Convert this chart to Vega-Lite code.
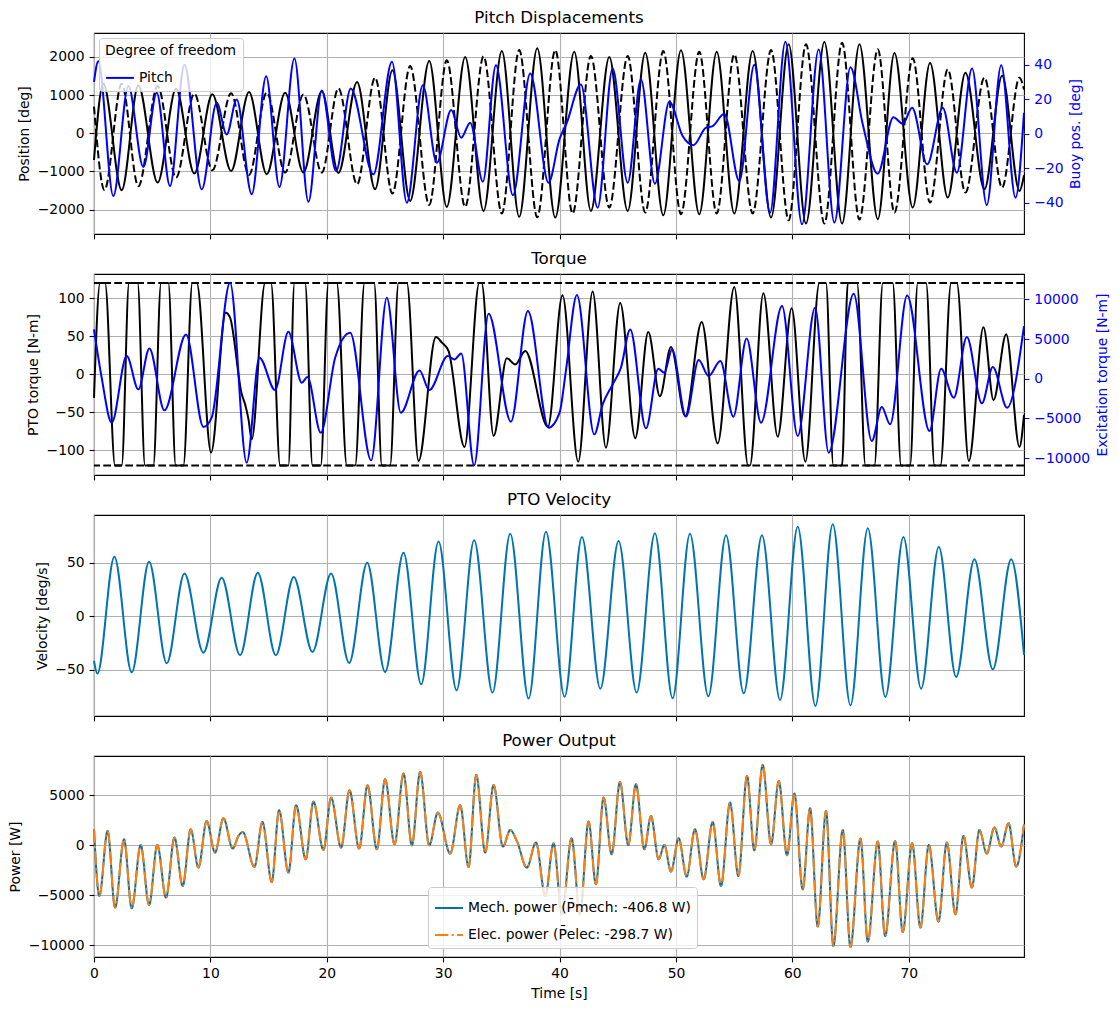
{
"$schema":"https://vega.github.io/schema/vega-lite/v6.json",
"background":"white",
"padding":{"left":8,"top":9,"right":5,"bottom":5},
"config":{
 "font":"DejaVu Sans",
 "view":{"stroke":"black","strokeWidth":1.1},
 "axis":{"labelFontSize":13.9,"titleFontSize":13.9,"titleFontWeight":"normal","labelColor":"black","titleColor":"black","tickColor":"black","tickSize":4.9,"tickWidth":1.1,"labelPadding":4.9,"titlePadding":5.6,"domain":false,"gridColor":"#b0b0b0","gridWidth":1.1,"gridOpacity":1,"labelFlush":false,"labelOverlap":false},
 "title":{"fontSize":16.7,"fontWeight":"normal","color":"black","frame":"group","offset":6},
 "legend":{"titleFontWeight":"normal","titleFontSize":13.9,"labelFontSize":13.9,"titleColor":"black","labelColor":"black","symbolType":"stroke","symbolSize":780,"symbolStrokeWidth":2,"fillColor":"rgba(255,255,255,0.8)","strokeColor":"#cccccc","cornerRadius":3,"padding":6,"labelLimit":0}
},
"datasets":{
 "p1s":[{"t":0,"v":-700},{"t":0.8,"v":1300},{"t":2.38,"v":-1490},{"t":3.81,"v":1250},{"t":5.47,"v":-1290},{"t":7.05,"v":1170},{"t":8.62,"v":-1056},{"t":10.17,"v":1021},{"t":11.78,"v":-990},{"t":13.32,"v":1083},{"t":14.84,"v":-1074},{"t":16.42,"v":1065},{"t":17.99,"v":-1030},{"t":19.57,"v":1100},{"t":21.0,"v":-1040},{"t":22.6,"v":1344},{"t":24.15,"v":-1467},{"t":25.64,"v":1650},{"t":27.16,"v":-1772},{"t":28.8,"v":1894},{"t":30.31,"v":-1929},{"t":31.89,"v":1999},{"t":33.47,"v":-2034},{"t":35.04,"v":2156},{"t":36.53,"v":-2191},{"t":38.08,"v":2226},{"t":39.63,"v":-2209},{"t":41.26,"v":2139},{"t":42.69,"v":-2034},{"t":44.27,"v":1999},{"t":45.85,"v":-2034},{"t":47.36,"v":2113},{"t":48.91,"v":-2148},{"t":50.43,"v":2174},{"t":52.0,"v":-2121},{"t":53.5,"v":2139},{"t":55.01,"v":-2104},{"t":56.59,"v":2156},{"t":58.17,"v":-2209},{"t":59.68,"v":2331},{"t":61.17,"v":-2366},{"t":62.75,"v":2392},{"t":64.27,"v":-2366},{"t":65.76,"v":2331},{"t":67.34,"v":-2252},{"t":68.77,"v":2104},{"t":70.34,"v":-1947},{"t":71.83,"v":1842},{"t":73.35,"v":-1685},{"t":74.87,"v":1589},{"t":76.5,"v":-1467},{"t":78.02,"v":1510},{"t":79.51,"v":-1510},{"t":79.9,"v":-1100}],
 "p1d":[{"t":0,"v":700},{"t":0.9,"v":-1490},{"t":2.38,"v":1300},{"t":3.81,"v":-1388},{"t":5.47,"v":1240},{"t":7.05,"v":-1161},{"t":8.62,"v":1039},{"t":10.17,"v":-969},{"t":11.78,"v":1048},{"t":13.32,"v":-1091},{"t":14.84,"v":1065},{"t":16.42,"v":-1030},{"t":17.99,"v":1020},{"t":19.57,"v":-1030},{"t":21.0,"v":1178},{"t":22.6,"v":-1336},{"t":24.15,"v":1458},{"t":25.64,"v":-1580},{"t":27.16,"v":1763},{"t":28.8,"v":-1877},{"t":30.31,"v":1912},{"t":31.89,"v":-1929},{"t":33.47,"v":2017},{"t":35.04,"v":-2104},{"t":36.53,"v":2183},{"t":38.08,"v":-2200},{"t":39.63,"v":2183},{"t":41.12,"v":-2104},{"t":42.69,"v":2025},{"t":44.27,"v":-1947},{"t":45.85,"v":2025},{"t":47.36,"v":-2078},{"t":48.91,"v":2156},{"t":50.43,"v":-2121},{"t":52.0,"v":2139},{"t":53.5,"v":-2104},{"t":55.01,"v":2069},{"t":56.59,"v":-2104},{"t":58.17,"v":2183},{"t":59.68,"v":-2279},{"t":61.17,"v":2331},{"t":62.75,"v":-2366},{"t":64.27,"v":2375},{"t":65.76,"v":-2261},{"t":67.34,"v":2200},{"t":68.77,"v":-2080},{"t":70.34,"v":1964},{"t":71.83,"v":-1816},{"t":73.35,"v":1676},{"t":74.87,"v":-1554},{"t":76.5,"v":1458},{"t":78.02,"v":-1423},{"t":79.51,"v":1458},{"t":79.9,"v":1150}],
 "p1b":[{"t":0,"v":30},{"t":0.37,"v":42},{"t":1.66,"v":-36},{"t":2.95,"v":27.6},{"t":4.24,"v":-19.3},{"t":5.39,"v":23.7},{"t":6.53,"v":-30.3},{"t":7.77,"v":40},{"t":9.26,"v":-32.2},{"t":10.54,"v":17.9},{"t":11.4,"v":-0.4},{"t":12.26,"v":19.8},{"t":13.55,"v":-35},{"t":14.79,"v":33.3},{"t":15.93,"v":-30.8},{"t":17.22,"v":43.5},{"t":18.42,"v":-39.3},{"t":19.57,"v":25},{"t":20.8,"v":-21.6},{"t":22.06,"v":26.2},{"t":24.0,"v":-23.5},{"t":25.6,"v":41.6},{"t":26.88,"v":-39.9},{"t":28.25,"v":28.1},{"t":29.45,"v":-16.8},{"t":30.69,"v":13.7},{"t":31.55,"v":-2.3},{"t":32.32,"v":6.4},{"t":33.41,"v":-27.7},{"t":34.53,"v":39.7},{"t":35.99,"v":-35.6},{"t":37.48,"v":34.9},{"t":39.05,"v":-28.3},{"t":40.0,"v":-3},{"t":40.6,"v":6},{"t":41.83,"v":28.5},{"t":43.27,"v":-42.8},{"t":44.56,"v":37.8},{"t":45.85,"v":-28.3},{"t":46.99,"v":31.4},{"t":48.19,"v":-28.9},{"t":49.43,"v":18.5},{"t":50.57,"v":-1.3},{"t":51.49,"v":-6.6},{"t":52.58,"v":3.5},{"t":53.15,"v":4.4},{"t":54.15,"v":11.6},{"t":55.44,"v":-27.4},{"t":56.73,"v":40},{"t":58.08,"v":-45.7},{"t":59.4,"v":53.2},{"t":60.83,"v":-52.4},{"t":62.26,"v":48.7},{"t":63.61,"v":-51.4},{"t":64.99,"v":38.5},{"t":66.05,"v":5.4},{"t":67.33,"v":-23.1},{"t":68.68,"v":9.6},{"t":69.48,"v":5.8},{"t":70.29,"v":15},{"t":71.58,"v":-17.7},{"t":72.92,"v":15},{"t":74.13,"v":-22.5},{"t":75.44,"v":37.8},{"t":76.7,"v":-41.2},{"t":77.94,"v":39.7},{"t":79.17,"v":-37},{"t":79.9,"v":12.1}],
 "p2k":[{"t":0,"v":-31},{"t":0.52,"v":120},{"t":0.95,"v":120},{"t":1.81,"v":-120},{"t":2.38,"v":-120},{"t":3.01,"v":120},{"t":3.75,"v":120},{"t":4.38,"v":-120},{"t":5.1,"v":-120},{"t":5.76,"v":120},{"t":6.39,"v":120},{"t":7.02,"v":-120},{"t":7.68,"v":-120},{"t":8.45,"v":120},{"t":8.83,"v":120},{"t":10.06,"v":-103},{"t":11.32,"v":81},{"t":11.69,"v":74.6},{"t":12.69,"v":-26},{"t":12.98,"v":-39.5},{"t":13.27,"v":-59},{"t":13.55,"v":-85.5},{"t":14.7,"v":120},{"t":15.21,"v":120},{"t":15.99,"v":-120},{"t":16.7,"v":-120},{"t":17.22,"v":120},{"t":18.14,"v":120},{"t":18.77,"v":-120},{"t":19.48,"v":-120},{"t":20.14,"v":120},{"t":20.86,"v":120},{"t":21.72,"v":-120},{"t":22.44,"v":-120},{"t":23.24,"v":120},{"t":24.07,"v":120},{"t":24.73,"v":-120},{"t":25.44,"v":-120},{"t":26.16,"v":120},{"t":26.88,"v":120},{"t":27.88,"v":-114},{"t":29.37,"v":49},{"t":29.89,"v":41.7},{"t":30.46,"v":30.7},{"t":31.83,"v":-95.6},{"t":33.1,"v":120},{"t":33.3,"v":120},{"t":34.33,"v":-81},{"t":35.47,"v":21},{"t":36.19,"v":13},{"t":37.05,"v":30.7},{"t":39.0,"v":-69},{"t":40.25,"v":104},{"t":41.6,"v":-115},{"t":42.84,"v":109},{"t":43.98,"v":-96.5},{"t":45.21,"v":94},{"t":46.5,"v":-84},{"t":47.62,"v":55.7},{"t":48.62,"v":-29},{"t":49.57,"v":36},{"t":50.8,"v":-55},{"t":52.21,"v":69},{"t":53.58,"v":-91},{"t":55.01,"v":115},{"t":56.2,"v":-120},{"t":56.35,"v":-120},{"t":57.51,"v":106.6},{"t":58.74,"v":-82},{"t":59.94,"v":87},{"t":61.12,"v":-115},{"t":62.32,"v":120},{"t":62.89,"v":120},{"t":63.52,"v":-120},{"t":64.27,"v":-120},{"t":64.76,"v":120},{"t":65.56,"v":120},{"t":66.28,"v":-120},{"t":67.05,"v":-120},{"t":67.77,"v":120},{"t":68.62,"v":120},{"t":69.34,"v":-120},{"t":70.11,"v":-120},{"t":70.77,"v":120},{"t":71.49,"v":120},{"t":72.21,"v":-120},{"t":72.72,"v":-120},{"t":73.64,"v":120},{"t":74.13,"v":120},{"t":75.16,"v":-114},{"t":76.42,"v":62},{"t":77.28,"v":-34},{"t":78.37,"v":52.6},{"t":79.51,"v":-95.6},{"t":79.9,"v":-53.5}],
 "p2b":[{"t":0,"v":6216},{"t":0.66,"v":126},{"t":1.52,"v":-5548},{"t":2.81,"v":2856},{"t":3.81,"v":-1344},{"t":4.76,"v":3822},{"t":6.05,"v":-3990},{"t":7.91,"v":5586},{"t":9.4,"v":-6090},{"t":10.11,"v":-4914},{"t":11.69,"v":12096},{"t":13.12,"v":-10584},{"t":14.21,"v":2646},{"t":15.56,"v":-1428},{"t":16.7,"v":5922},{"t":17.85,"v":-504},{"t":18.34,"v":210},{"t":19.48,"v":-6804},{"t":20.72,"v":2646},{"t":22.01,"v":5796},{"t":23.81,"v":-10290},{"t":25.16,"v":10206},{"t":26.36,"v":-4284},{"t":27.97,"v":1050},{"t":28.8,"v":-1428},{"t":30.4,"v":2856},{"t":30.97,"v":2436},{"t":31.55,"v":3192},{"t":32.66,"v":-10920},{"t":33.9,"v":8190},{"t":35.82,"v":-5418},{"t":37.28,"v":8526},{"t":39.05,"v":-6174},{"t":40.0,"v":-4284},{"t":40.54,"v":966},{"t":41.49,"v":10542},{"t":42.98,"v":-7014},{"t":43.7,"v":-3234},{"t":44.56,"v":-714},{"t":45.27,"v":1386},{"t":46.07,"v":6216},{"t":47.42,"v":-6258},{"t":48.48,"v":1260},{"t":49.0,"v":756},{"t":49.66,"v":3696},{"t":50.86,"v":-4788},{"t":51.95,"v":2352},{"t":52.81,"v":336},{"t":53.81,"v":2226},{"t":54.93,"v":-4788},{"t":56.07,"v":5082},{"t":57.31,"v":-5544},{"t":59.11,"v":9156},{"t":60.46,"v":-7224},{"t":61.95,"v":8946},{"t":63.12,"v":-9324},{"t":65.27,"v":10710},{"t":66.82,"v":-7854},{"t":67.68,"v":-3570},{"t":68.4,"v":-5754},{"t":69.86,"v":10500},{"t":71.78,"v":-6594},{"t":72.78,"v":1260},{"t":73.87,"v":-2394},{"t":74.99,"v":5250},{"t":76.28,"v":-3108},{"t":77.22,"v":1470},{"t":78.45,"v":-3654},{"t":79.9,"v":6636}],
 "p3":[{"t":0,"v":-41.6},{"t":0.29,"v":-53.4},{"t":1.75,"v":55.6},{"t":3.24,"v":-52.2},{"t":4.73,"v":50.9},{"t":6.25,"v":-43.8},{"t":7.77,"v":39.8},{"t":9.4,"v":-33.9},{"t":10.97,"v":36},{"t":12.55,"v":-36.3},{"t":14.07,"v":40.7},{"t":15.62,"v":-36.3},{"t":17.16,"v":36.6},{"t":18.77,"v":-33.2},{"t":20.37,"v":40},{"t":21.92,"v":-43.5},{"t":23.47,"v":50},{"t":25.01,"v":-51.9},{"t":26.59,"v":59.3},{"t":28.11,"v":-63.4},{"t":29.6,"v":69.6},{"t":31.15,"v":-68.9},{"t":32.66,"v":70.8},{"t":34.24,"v":-71.1},{"t":35.76,"v":77},{"t":37.34,"v":-76.7},{"t":38.83,"v":78.9},{"t":40.43,"v":-75},{"t":41.92,"v":73.9},{"t":43.5,"v":-67.4},{"t":45.07,"v":70.2},{"t":46.62,"v":-71.1},{"t":48.19,"v":77.3},{"t":49.71,"v":-76.4},{"t":51.2,"v":77},{"t":52.78,"v":-74.5},{"t":54.3,"v":75.5},{"t":55.82,"v":-71.7},{"t":57.39,"v":75.5},{"t":58.94,"v":-78},{"t":60.46,"v":83.5},{"t":61.98,"v":-83.5},{"t":63.47,"v":85.7},{"t":64.99,"v":-82.9},{"t":66.48,"v":82},{"t":67.99,"v":-75.2},{"t":69.54,"v":73.9},{"t":71.06,"v":-67.4},{"t":72.58,"v":64.6},{"t":74.07,"v":-56.5},{"t":75.64,"v":53.1},{"t":77.22,"v":-49.4},{"t":78.8,"v":53.1},{"t":79.9,"v":-36}],
 "p4":[{"t":0,"m":1600,"e":1600},{"t":0.46,"m":-5070,"e":-5070},{"t":1.17,"m":1430,"e":1430},{"t":1.81,"m":-6230,"e":-6230},{"t":2.58,"m":600,"e":600},{"t":3.24,"m":-6300,"e":-6300},{"t":4.01,"m":30,"e":30},{"t":4.73,"m":-5970,"e":-5970},{"t":5.44,"m":30,"e":30},{"t":6.19,"m":-5230,"e":-5230},{"t":6.91,"m":770,"e":770},{"t":7.62,"m":-4070,"e":-4070},{"t":8.31,"m":1600,"e":1600},{"t":8.97,"m":-2230,"e":-2230},{"t":9.68,"m":2430,"e":2430},{"t":10.4,"m":-730,"e":-730},{"t":11.12,"m":2700,"e":2700},{"t":11.92,"m":-330,"e":-330},{"t":12.41,"m":930,"e":930},{"t":12.78,"m":1330,"e":1330},{"t":13.78,"m":-2170,"e":-2170},{"t":14.47,"m":2330,"e":2330},{"t":15.27,"m":-3670,"e":-3670},{"t":15.9,"m":3500,"e":3500},{"t":16.7,"m":-2730,"e":-2730},{"t":17.36,"m":4000,"e":4000},{"t":18.19,"m":-1400,"e":-1400},{"t":18.85,"m":4370,"e":4370},{"t":19.71,"m":-470,"e":-470},{"t":20.37,"m":4770,"e":4770},{"t":21.23,"m":-230,"e":-230},{"t":21.95,"m":5500,"e":5500},{"t":22.78,"m":-330,"e":-330},{"t":23.5,"m":6000,"e":6000},{"t":24.3,"m":-400,"e":-400},{"t":25.01,"m":6600,"e":6600},{"t":25.82,"m":100,"e":100},{"t":26.59,"m":7170,"e":7170},{"t":27.31,"m":0,"e":0},{"t":28.02,"m":7330,"e":7330},{"t":28.8,"m":0,"e":0},{"t":29.54,"m":3270,"e":3270},{"t":30.6,"m":-830,"e":-830},{"t":31.46,"m":4000,"e":4000},{"t":32.18,"m":-2170,"e":-2170},{"t":32.84,"m":7030,"e":7030},{"t":33.61,"m":-730,"e":-730},{"t":34.33,"m":6030,"e":6030},{"t":35.13,"m":-130,"e":-130},{"t":35.76,"m":1530,"e":1530},{"t":36.33,"m":430,"e":430},{"t":37.19,"m":-2230,"e":-2230},{"t":37.97,"m":270,"e":270},{"t":38.77,"m":-5070,"e":-5070},{"t":39.48,"m":200,"e":200},{"t":40.2,"m":-6900,"e":-6900},{"t":41.03,"m":700,"e":700},{"t":41.75,"m":-6900,"e":-6900},{"t":42.49,"m":2370,"e":2370},{"t":43.12,"m":-3900,"e":-3900},{"t":43.78,"m":4770,"e":4770},{"t":44.47,"m":-900,"e":-900},{"t":45.19,"m":6330,"e":6330},{"t":45.9,"m":30,"e":30},{"t":46.56,"m":6100,"e":6100},{"t":47.28,"m":-400,"e":-400},{"t":47.85,"m":2930,"e":2930},{"t":48.51,"m":-1400,"e":-1400},{"t":49.0,"m":30,"e":30},{"t":49.57,"m":-2630,"e":-2630},{"t":50.23,"m":700,"e":700},{"t":50.92,"m":-3130,"e":-3130},{"t":51.63,"m":1600,"e":1600},{"t":52.38,"m":-3400,"e":-3400},{"t":53.15,"m":2330,"e":2330},{"t":53.87,"m":-4070,"e":-4070},{"t":54.64,"m":4270,"e":4270},{"t":55.36,"m":-3070,"e":-3070},{"t":56.1,"m":6930,"e":6930},{"t":56.73,"m":-500,"e":-500},{"t":57.45,"m":8030,"e":8030},{"t":58.17,"m":100,"e":100},{"t":58.83,"m":6430,"e":6430},{"t":59.54,"m":-1000,"e":-1000},{"t":60.17,"m":5170,"e":5170},{"t":60.89,"m":-4400,"e":-4400},{"t":61.52,"m":3700,"e":3700},{"t":62.18,"m":-8130,"e":-8130},{"t":62.89,"m":3430,"e":3430},{"t":63.52,"m":-10070,"e":-10070},{"t":64.33,"m":1530,"e":1530},{"t":64.99,"m":-10170,"e":-10170},{"t":65.85,"m":670,"e":670},{"t":66.48,"m":-9630,"e":-9630},{"t":67.34,"m":370,"e":370},{"t":67.97,"m":-9070,"e":-9070},{"t":68.83,"m":430,"e":430},{"t":69.48,"m":-8670,"e":-8670},{"t":70.29,"m":200,"e":200},{"t":71.0,"m":-8230,"e":-8230},{"t":71.72,"m":30,"e":30},{"t":72.55,"m":-7630,"e":-7630},{"t":73.27,"m":270,"e":270},{"t":74.01,"m":-6900,"e":-6900},{"t":74.7,"m":930,"e":930},{"t":75.42,"m":-4230,"e":-4230},{"t":76.07,"m":1530,"e":1530},{"t":76.7,"m":-830,"e":-830},{"t":77.36,"m":1770,"e":1770},{"t":77.94,"m":-130,"e":-130},{"t":78.57,"m":2200,"e":2200},{"t":79.23,"m":-2130,"e":-2130},{"t":79.9,"m":2100,"e":2100}]
},
"vconcat":[
 {
  "title":"Pitch Displacements","width":930,"height":201,
  "layer":[
   {"layer":[
     {"data":{"name":"p1s"},"mark":{"type":"line","color":"black","strokeWidth":2,"interpolate":"monotone"},
      "encoding":{"x":{"field":"t","type":"quantitative","scale":{"domain":[0,79.9],"nice":false,"zero":false},"axis":{"title":null,"labels":false,"values":[0,10,20,30,40,50,60,70]}},
       "y":{"field":"v","type":"quantitative","scale":{"domain":[-2640,2629],"nice":false,"zero":false},"axis":{"title":"Position [deg]","values":[-2000,-1000,0,1000,2000],"format":"d","labelExpr":"replace(datum.label,'-','−')"}}}},
     {"data":{"name":"p1d"},"mark":{"type":"line","color":"black","strokeWidth":2,"strokeDash":[7.7,3.3],"interpolate":"monotone"},
      "encoding":{"x":{"field":"t","type":"quantitative"},"y":{"field":"v","type":"quantitative"}}}
   ]},
   {"data":{"name":"p1b"},"mark":{"type":"line","strokeWidth":2,"interpolate":"monotone"},
    "encoding":{"x":{"field":"t","type":"quantitative","scale":{"domain":[0,79.9],"nice":false,"zero":false}},
     "y":{"field":"v","type":"quantitative","scale":{"domain":[-58,58.3],"nice":false,"zero":false},"axis":{"orient":"right","title":"Buoy pos. [deg]","titleAngle":270,"titleBaseline":"top","values":[-40,-20,0,20,40],"format":"d","labelExpr":"replace(datum.label,'-','−')","grid":false,"labelColor":"blue","titleColor":"blue","tickColor":"blue"}},
     "color":{"datum":"Pitch","scale":{"domain":["Pitch"],"range":["blue"]},"legend":{"orient":"none","legendX":5,"legendY":5,"title":"Degree of freedom"}}}}
  ],
  "resolve":{"scale":{"y":"independent"}}
 },
 {
  "title":"Torque","width":930,"height":201,
  "layer":[
   {"layer":[
     {"data":{"name":"p2k"},"mark":{"type":"line","color":"black","strokeWidth":2,"interpolate":"monotone"},
      "encoding":{"x":{"field":"t","type":"quantitative","scale":{"domain":[0,79.9],"nice":false,"zero":false},"axis":{"title":null,"labels":false,"values":[0,10,20,30,40,50,60,70]}},
       "y":{"field":"v","type":"quantitative","scale":{"domain":[-132.5,132],"nice":false,"zero":false},"axis":{"title":"PTO torque [N-m]","values":[-100,-50,0,50,100],"format":"d","labelExpr":"replace(datum.label,'-','−')"}}}},
     {"data":{"values":[{"lim":120},{"lim":-120}]},"mark":{"type":"rule","color":"black","strokeWidth":2,"strokeDash":[7.7,3.3]},
      "encoding":{"y":{"field":"lim","type":"quantitative"}}}
   ]},
   {"data":{"name":"p2b"},"mark":{"type":"line","color":"blue","strokeWidth":2,"interpolate":"monotone"},
    "encoding":{"x":{"field":"t","type":"quantitative","scale":{"domain":[0,79.9],"nice":false,"zero":false}},
     "y":{"field":"v","type":"quantitative","scale":{"domain":[-12140,13200],"nice":false,"zero":false},"axis":{"orient":"right","title":"Excitation torque [N-m]","titleAngle":270,"titleBaseline":"top","values":[-10000,-5000,0,5000,10000],"format":"d","labelExpr":"replace(datum.label,'-','−')","grid":false,"labelColor":"blue","titleColor":"blue","tickColor":"blue"}}}}
  ],
  "resolve":{"scale":{"y":"independent"}}
 },
 {
  "title":"PTO Velocity","width":930,"height":201,
  "data":{"name":"p3"},
  "mark":{"type":"line","color":"#0173b2","strokeWidth":2,"interpolate":"monotone"},
  "encoding":{"x":{"field":"t","type":"quantitative","scale":{"domain":[0,79.9],"nice":false,"zero":false},"axis":{"title":null,"labels":false,"values":[0,10,20,30,40,50,60,70]}},
   "y":{"field":"v","type":"quantitative","scale":{"domain":[-92.9,94.4],"nice":false,"zero":false},"axis":{"title":"Velocity [deg/s]","values":[-50,0,50],"format":"d","labelExpr":"replace(datum.label,'-','−')"}}}
 },
 {
  "title":"Power Output","width":930,"height":201,
  "data":{"name":"p4"},
  "layer":[
   {"mark":{"type":"line","strokeWidth":2,"interpolate":"monotone"},
    "encoding":{"x":{"field":"t","type":"quantitative","scale":{"domain":[0,79.9],"nice":false,"zero":false},"axis":{"title":"Time [s]","format":"d","values":[0,10,20,30,40,50,60,70]}},
     "y":{"field":"m","type":"quantitative","scale":{"domain":[-11170,8930],"nice":false,"zero":false},"axis":{"title":"Power [W]","values":[-10000,-5000,0,5000],"format":"d","labelExpr":"replace(datum.label,'-','−')"}},
     "color":{"datum":"Mech. power (P̄mech: -406.8 W)","scale":{"domain":["Mech. power (P̄mech: -406.8 W)","Elec. power (P̄elec: -298.7 W)"],"range":["#0173b2","#ff7f0e"]},"legend":{"orient":"none","legendX":334,"legendY":131,"title":null,"rowPadding":5,"labelLimit":0}},
     "strokeDash":{"datum":"Mech. power (P̄mech: -406.8 W)","scale":{"domain":["Mech. power (P̄mech: -406.8 W)","Elec. power (P̄elec: -298.7 W)"],"range":[[1,0],[13.3,3.3,2.1,3.3]]},"legend":{"orient":"none","legendX":334,"legendY":131,"title":null,"rowPadding":5,"labelLimit":0}}}},
   {"mark":{"type":"line","strokeWidth":2,"interpolate":"monotone"},
    "encoding":{"x":{"field":"t","type":"quantitative"},"y":{"field":"e","type":"quantitative"},
     "color":{"datum":"Elec. power (P̄elec: -298.7 W)"},"strokeDash":{"datum":"Elec. power (P̄elec: -298.7 W)"}}}
  ]
 }
],
"spacing":40,
"bounds":"flush",
"resolve":{"scale":{"color":"independent","strokeDash":"independent"}}
}
